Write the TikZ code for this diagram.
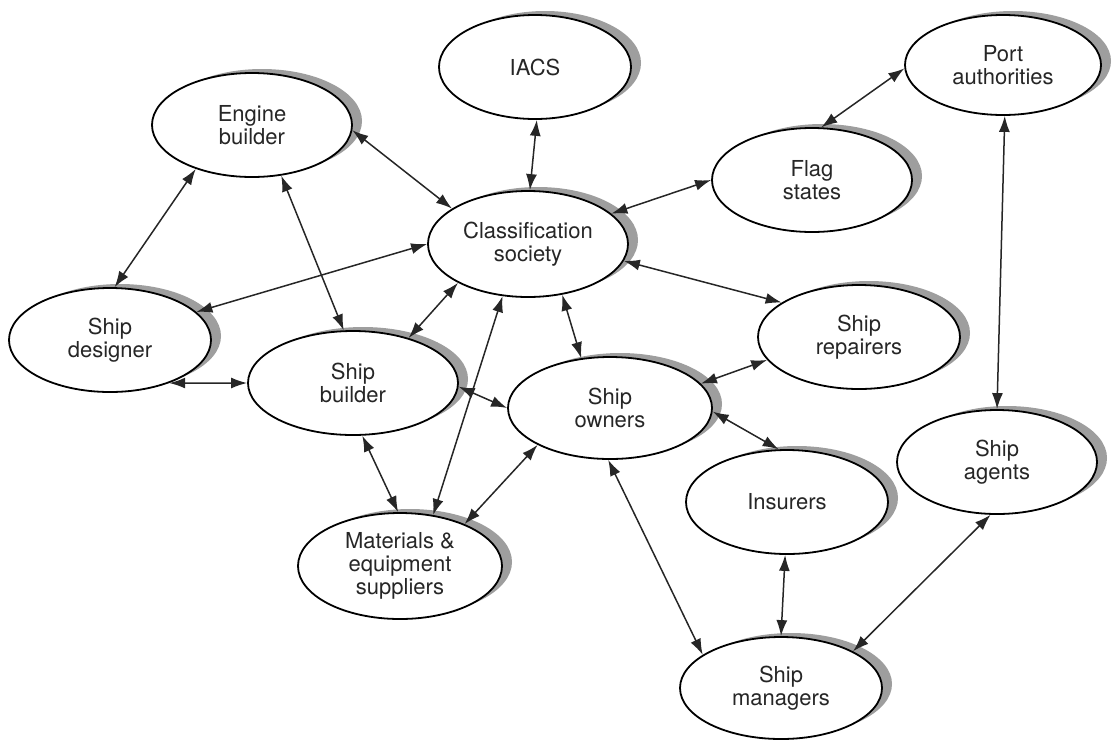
\documentclass[tikz,border=0pt]{standalone}
\usepackage{fontspec}
\setmainfont{TeX Gyre Heros}
\usepackage{tikz}
\usetikzlibrary{arrows.meta,shapes.geometric,shadows}

\begin{document}
\begin{tikzpicture}[
  x=0.5pt, y=-0.5pt,
  party/.style={ellipse, draw, line width=0.9pt, fill=white, inner sep=0pt,
    minimum width=100pt, minimum height=52pt, align=center,
    font=\fontsize{11}{11.6}\selectfont, text=black!85,
    drop shadow={shadow xshift=5pt, shadow yshift=2pt, fill=black!38, opacity=1}},
  link/.style={{Latex[length=8pt,width=5.5pt]}-{Latex[length=8pt,width=5.5pt]}, line width=0.75pt, draw=black!85}
]
\useasboundingbox (0,0) rectangle (1112,740);
\node[party, minimum width=96pt] (iacs) at (535,67) {IACS};
\node[party, minimum width=98pt, minimum height=50pt] (port) at (1003,65) {Port\\ authorities};
\node[party] (engine) at (252,125) {Engine\\ builder};
\node[party] (flag) at (812,180) {Flag\\ states};
\node[party, minimum height=53pt] (class) at (528,244) {Classification\\ society};
\node[party, minimum width=101pt] (designer) at (110,340) {Ship\\ designer};
\node[party, minimum width=101pt] (repair) at (859,337) {Ship\\ repairers};
\node[party, minimum width=105pt] (builder) at (353,383) {Ship\\ builder};
\node[party, minimum width=102pt, minimum height=51pt] (owners) at (610,408) {Ship\\ owners};
\node[party] (agents) at (997,462) {Ship\\ agents};
\node[party, minimum width=101pt] (insurers) at (787,502) {Insurers};
\node[party, minimum width=102pt, minimum height=53pt] (materials) at (400,566) {Materials \&\\ equipment\\ suppliers};
\node[party, minimum width=101pt, minimum height=51pt] (managers) at (781,688) {Ship\\ managers};
\draw[link] (engine.-3) -- (class.155);
\draw[link] (iacs.-88) -- (class.88);
\draw[link] (class.20) -- (flag.180);
\draw[link] (port.182) -- (flag.80);
\draw[link] (port.-88) -- (agents.90);
\draw[link] (engine.218) -- (designer.85);
\draw[link] (engine.-60) -- (builder.100);
\draw[link] (designer.18) -- (class.180);
\draw[link] (class.-10) -- (repair.156);
\draw[link] (class.209) -- (builder.39);
\draw[link] (class.-56) -- (owners.120);
\draw[link] (class.244) -- (materials.57);
\draw[link] (designer.-36) -- (builder.180);
\draw[link] (builder.-2) -- (owners.180);
\draw[link] (builder.-80) -- (materials.92);
\draw[link] (owners.207) -- (materials.33);
\draw[link] (owners.15) -- (repair.194);
\draw[link] (owners.-2) -- (insurers.99);
\draw[link] (owners.-92) -- (managers.157);
\draw[link] (insurers.-92) -- (managers.90);
\draw[link] (agents.-97) -- (managers.27);
\end{tikzpicture}
\end{document}
